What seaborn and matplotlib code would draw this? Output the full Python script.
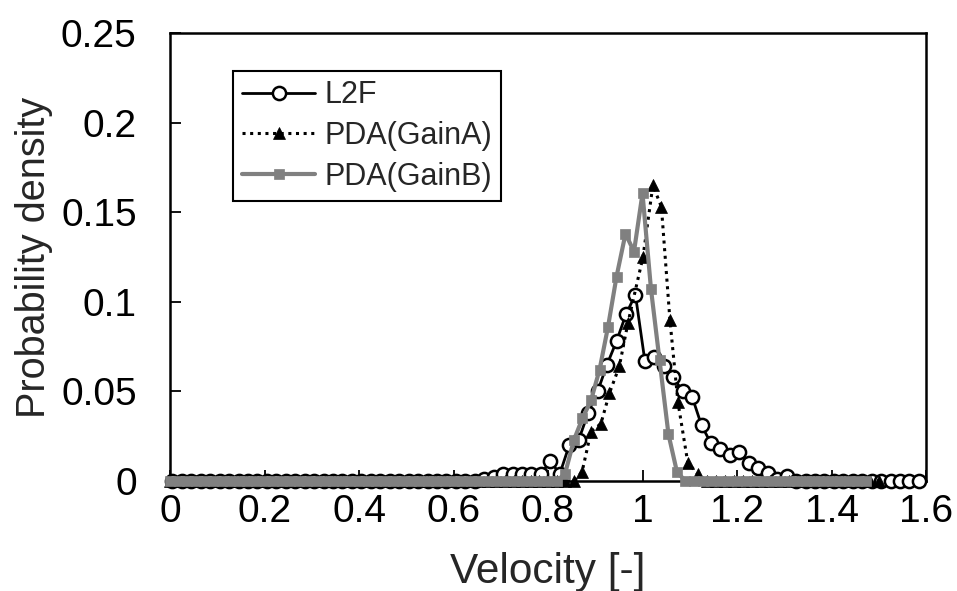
import matplotlib
matplotlib.use("Agg")
import matplotlib.pyplot as plt
from matplotlib.ticker import FuncFormatter
import seaborn as sns
import pandas as pd

# ---------------- data ----------------
l2f_x = [0.005, 0.025, 0.045, 0.065, 0.085, 0.105, 0.125, 0.145, 0.165, 0.185,
         0.205, 0.225, 0.245, 0.265, 0.285, 0.305, 0.325, 0.345, 0.365, 0.385,
         0.405, 0.425, 0.445, 0.465, 0.485, 0.505, 0.525, 0.545, 0.565, 0.585,
         0.605, 0.625, 0.645, 0.665, 0.685, 0.705, 0.725, 0.745, 0.765, 0.785,
         0.805, 0.825, 0.845, 0.865, 0.885, 0.905, 0.925, 0.945, 0.965, 0.985,
         1.005, 1.025, 1.045, 1.065, 1.085, 1.105, 1.125, 1.145, 1.165, 1.185,
         1.205, 1.225, 1.245, 1.265, 1.285, 1.305, 1.325, 1.345, 1.365, 1.385,
         1.405, 1.425, 1.445, 1.465, 1.485, 1.505, 1.525, 1.545, 1.565, 1.585]
l2f_y = [0, 0, 0, 0, 0, 0, 0, 0, 0, 0,
         0, 0, 0, 0, 0, 0, 0, 0, 0, 0,
         0, 0, 0, 0, 0, 0, 0, 0, 0, 0,
         0, 0, 0, 0.001, 0.002, 0.004, 0.004, 0.004, 0.004, 0.004,
         0.011, 0.004, 0.020, 0.023, 0.038, 0.050, 0.065, 0.078, 0.093, 0.104,
         0.067, 0.069, 0.064, 0.058, 0.050, 0.047, 0.031, 0.021, 0.018, 0.0145,
         0.016, 0.010, 0.007, 0.0046, 0.001, 0.003, 0, 0, 0, 0,
         0, 0, 0, 0, 0, 0, 0, 0, 0, 0]

gainb_x = [0.000, 0.018, 0.036, 0.055, 0.073, 0.091, 0.109, 0.127, 0.145, 0.164,
           0.182, 0.200, 0.218, 0.236, 0.255, 0.273, 0.291, 0.309, 0.327, 0.345,
           0.364, 0.382, 0.400, 0.418, 0.436, 0.455, 0.473, 0.491, 0.509, 0.527,
           0.545, 0.564, 0.582, 0.600, 0.618, 0.636, 0.655, 0.673, 0.691, 0.709,
           0.727, 0.745, 0.764, 0.782, 0.800, 0.818, 0.836, 0.855, 0.873, 0.891,
           0.909, 0.927, 0.945, 0.964, 0.982, 1.000, 1.018, 1.036, 1.055, 1.073,
           1.091, 1.109, 1.127, 1.145, 1.164, 1.182, 1.200, 1.218, 1.236, 1.255,
           1.273, 1.291, 1.309, 1.327, 1.345, 1.364, 1.382, 1.400, 1.418, 1.436,
           1.455, 1.473]
gainb_y = [0, 0, 0, 0, 0, 0, 0, 0, 0, 0,
           0, 0, 0, 0, 0, 0, 0, 0, 0, 0,
           0, 0, 0, 0, 0, 0, 0, 0, 0, 0,
           0, 0, 0, 0, 0, 0, 0, 0, 0, 0,
           0, 0, 0, 0, 0, 0, 0.004, 0.023, 0.035, 0.045,
           0.062, 0.086, 0.114, 0.138, 0.128, 0.1605, 0.107, 0.0675, 0.026, 0.005,
           0, 0, 0, 0, 0, 0, 0, 0, 0, 0,
           0, 0, 0, 0, 0, 0, 0, 0, 0, 0,
           0, 0]

gaina_x = [0.000, 0.018, 0.036, 0.055, 0.073, 0.091, 0.109, 0.127, 0.145, 0.164,
           0.182, 0.200, 0.218, 0.236, 0.255, 0.273, 0.291, 0.309, 0.327, 0.345,
           0.364, 0.382, 0.400, 0.418, 0.436, 0.455, 0.473, 0.491, 0.509, 0.527,
           0.545, 0.564, 0.582, 0.600, 0.618, 0.636, 0.655, 0.673, 0.691, 0.709,
           0.727, 0.745, 0.764, 0.782, 0.800, 0.818, 0.836, 0.855,
           0.872, 0.891, 0.912, 0.930, 0.951, 0.969, 1.001, 1.022, 1.040, 1.058,
           1.075, 1.096, 1.117,
           1.136, 1.155, 1.174, 1.194, 1.213, 1.232, 1.251, 1.270, 1.290, 1.309,
           1.328, 1.347, 1.366, 1.386, 1.405, 1.424, 1.443, 1.462, 1.482, 1.501]
gaina_y = [0, 0, 0, 0, 0, 0, 0, 0, 0, 0,
           0, 0, 0, 0, 0, 0, 0, 0, 0, 0,
           0, 0, 0, 0, 0, 0, 0, 0, 0, 0,
           0, 0, 0, 0, 0, 0, 0, 0, 0, 0,
           0, 0, 0, 0, 0, 0, 0, 0,
           0.005, 0.0275, 0.032, 0.049, 0.064, 0.088, 0.125, 0.165, 0.153, 0.090,
           0.044, 0.010, 0.004,
           0, 0, 0, 0, 0, 0, 0, 0, 0, 0,
           0, 0, 0, 0, 0, 0, 0, 0, 0, 0]

series_names = ["L2F", "PDA(GainA)", "PDA(GainB)"]
x_ticks = [0, 0.2, 0.4, 0.6, 0.8, 1.0, 1.2, 1.4, 1.6]
y_ticks = [0, 0.05, 0.1, 0.15, 0.2, 0.25]

# ---------------- plot ----------------
sns.set_theme(style="white")
plt.rcParams["font.family"] = ["Liberation Sans", "DejaVu Sans"]

fig = plt.figure(figsize=(9.57, 5.91), dpi=100)
ax = fig.add_axes([170 / 957, 1 - 481 / 591, 756 / 957, 448 / 591])

df_l2f = pd.DataFrame({"x": l2f_x, "y": l2f_y})
df_a = pd.DataFrame({"x": gaina_x, "y": gaina_y})
df_b = pd.DataFrame({"x": gainb_x, "y": gainb_y})

sns.lineplot(data=df_l2f, x="x", y="y", ax=ax, color="black", linewidth=2.0,
             marker="o", markersize=9.5, markerfacecolor="white",
             markeredgecolor="black", markeredgewidth=1.8,
             estimator=None, sort=False, label=series_names[0], clip_on=False, zorder=3)
sns.lineplot(data=df_a, x="x", y="y", ax=ax, color="black", linewidth=2.2,
             linestyle=(0, (1, 1.5)), marker="^", markersize=8.5,
             markerfacecolor="black", markeredgecolor="black", markeredgewidth=0.5,
             estimator=None, sort=False, label=series_names[1], clip_on=False, zorder=4)
sns.lineplot(data=df_b, x="x", y="y", ax=ax, color="#808080", linewidth=3.0,
             marker="s", markersize=6.5, markerfacecolor="#808080",
             markeredgecolor="#808080", markeredgewidth=0.5,
             estimator=None, sort=False, label=series_names[2], clip_on=False, zorder=5)

ax.set_xlim(0, 1.6)
ax.set_ylim(0, 0.25)
ax.set_xticks(x_ticks)
ax.set_yticks(y_ticks)
fmt = FuncFormatter(lambda v, p: "%g" % round(v, 3))
ax.xaxis.set_major_formatter(fmt)
ax.yaxis.set_major_formatter(fmt)

ax.tick_params(axis="both", direction="in", length=8, width=1.3, colors="black",
               labelsize=28, top=False, right=False, bottom=True, left=True)
ax.tick_params(axis="y", pad=24)
ax.tick_params(axis="x", pad=9)
for s in ax.spines.values():
    s.set_visible(True)
    s.set_color("black")
    s.set_linewidth(1.8)

ax.set_xlabel("Velocity [-]", fontsize=30.5, labelpad=16)
ax.set_ylabel("Probability density", fontsize=28.5, labelpad=6)

leg = ax.legend(loc="upper left", bbox_to_anchor=(0.083, 0.915), borderaxespad=0,
                fontsize=22, frameon=True, fancybox=False, handlelength=2.4,
                handletextpad=0.3, labelspacing=0.35, borderpad=0.3)
leg.get_frame().set_edgecolor("black")
leg.get_frame().set_linewidth(1.5)
leg.get_frame().set_facecolor("white")
leg.get_frame().set_alpha(1)

ax.set_facecolor("white")
fig.patch.set_facecolor("white")
fig.savefig("out.png", dpi=100)
